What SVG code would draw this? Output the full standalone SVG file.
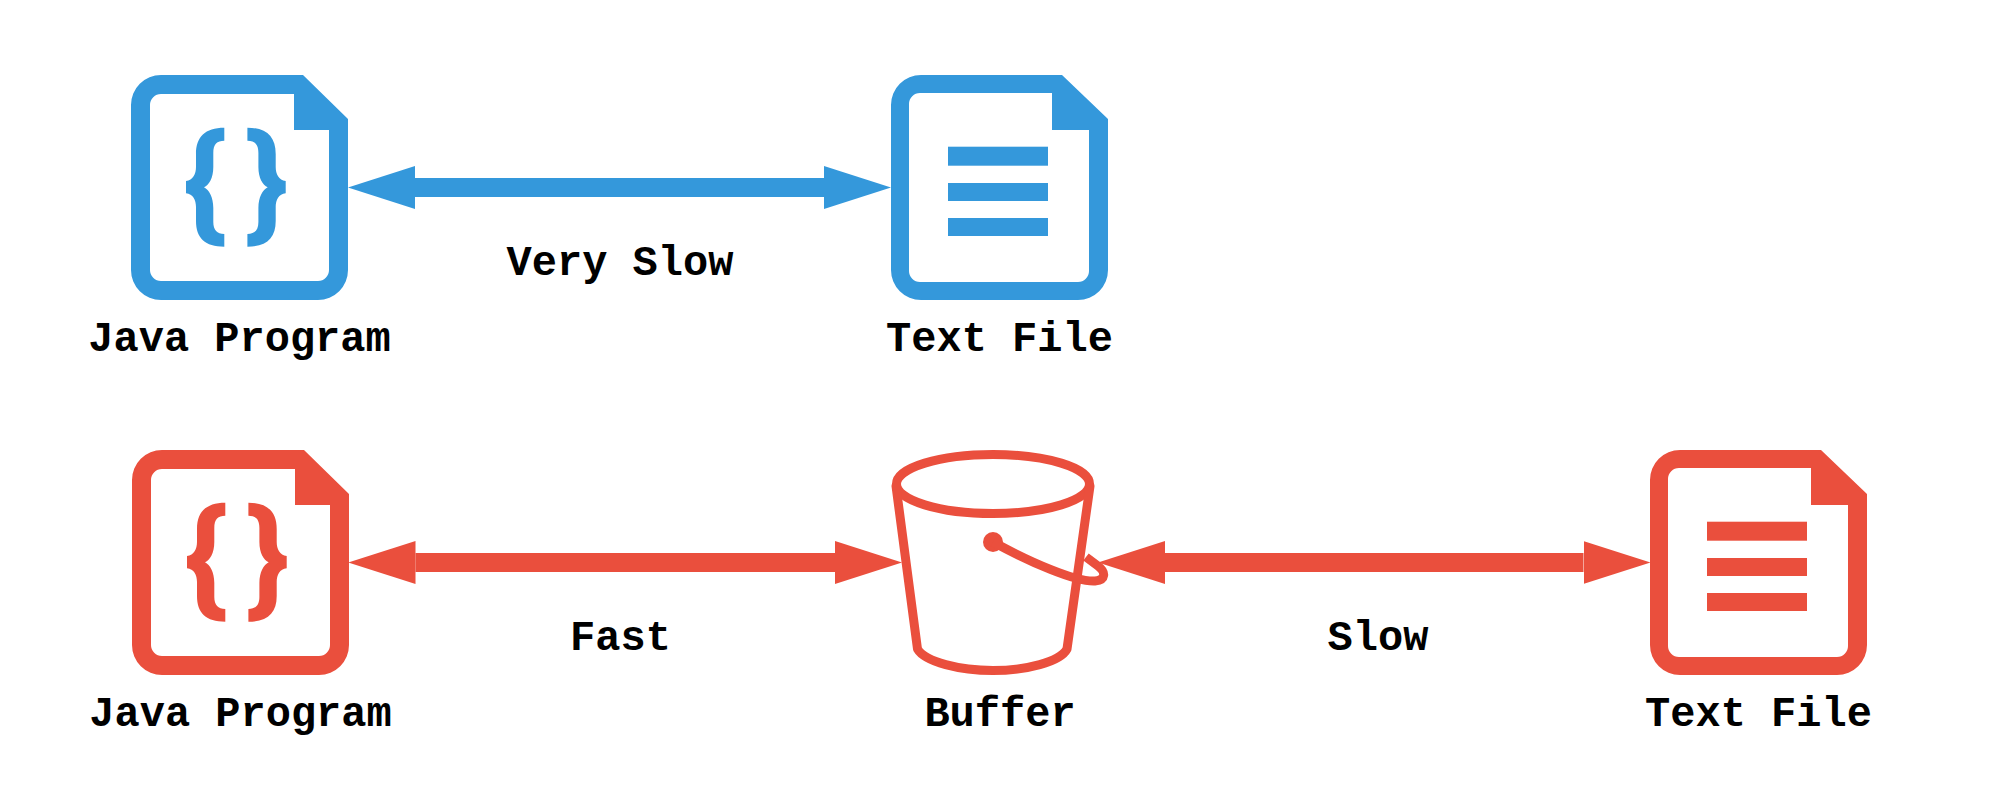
<svg xmlns="http://www.w3.org/2000/svg" width="1999" height="806" viewBox="0 0 1999 806">
<style>
.blue{color:#3498db}
.red{color:#ea4f3d}
.label{font-family:"Liberation Mono","DejaVu Sans Mono",monospace;font-weight:700;font-size:42px;fill:#000;text-anchor:middle}
.shaft{stroke:currentColor;stroke-width:19;fill:none}
.ink{fill:currentColor}
.pail{fill:none;stroke:currentColor;stroke-width:9;stroke-linejoin:round;stroke-linecap:round}
</style>
<defs>
<marker id="head-blue" markerUnits="userSpaceOnUse" markerWidth="67" markerHeight="43" refX="0" refY="21.5" orient="auto-start-reverse" viewBox="0 0 67 43"><path d="M0 0L67 21.5L0 43Z" fill="#3498db"/></marker>
<marker id="head-red" markerUnits="userSpaceOnUse" markerWidth="67" markerHeight="43" refX="0" refY="21.5" orient="auto-start-reverse" viewBox="0 0 67 43"><path d="M0 0L67 21.5L0 43Z" fill="#ea4f3d"/></marker>
<path id="sheet-code" class="ink" fill-rule="evenodd" d="M30 0H172L217 44V195A30 30 0 0 1 187 225H30A30 30 0 0 1 0 195V30A30 30 0 0 1 30 0ZM30 19A11 11 0 0 0 19 30V195A11 11 0 0 0 30 206H187A11 11 0 0 0 198 195V55H163V19Z"/>
<path id="sheet-text" class="ink" fill-rule="evenodd" d="M30 0H171L217 44V195A30 30 0 0 1 187 225H30A30 30 0 0 1 0 195V30A30 30 0 0 1 30 0ZM29 18A11 11 0 0 0 18 29V196A11 11 0 0 0 29 207H187A11 11 0 0 0 198 196V55H161V18Z"/>
<path id="brace" class="ink" d="M93.3 52.7V65.7C86 65.7 82.3 69 82.3 78V92C82.3 103 78 110 73 112.3C78 115 82.3 122 82.3 133V147C82.3 155 86 159 93.3 159V171.7C74 171.7 65 163 65 146V132C65 125 62 119 55 118.3V106C62 105 65 99 65 92V79C65 62 74 52.7 93.3 52.7Z"/>
<g id="code-icon"><use href="#sheet-code"/><use href="#brace"/><use href="#brace" transform="translate(209.7 0) scale(-1 1)"/></g>
<g id="text-icon"><use href="#sheet-text"/><rect class="ink" x="57" y="71.7" width="100" height="19"/><rect class="ink" x="57" y="108" width="100" height="18"/><rect class="ink" x="57" y="143" width="100" height="18"/></g>
</defs>
<rect width="1999" height="806" fill="#fff"/>
<g id="connectors">
<line class="shaft blue" x1="415" y1="187.5" x2="824" y2="187.5" marker-start="url(#head-blue)" marker-end="url(#head-blue)"/>
<line class="shaft red" x1="415.5" y1="562.5" x2="835" y2="562.5" marker-start="url(#head-red)" marker-end="url(#head-red)"/>
<line class="shaft red" x1="1165" y1="562.5" x2="1583.5" y2="562.5" marker-start="url(#head-red)" marker-end="url(#head-red)"/>
</g>
<g id="java-program-1" class="blue"><use href="#code-icon" x="131" y="75"/><text class="label" x="239.5" y="351">Java Program</text></g>
<g id="text-file-1" class="blue"><use href="#text-icon" x="891" y="75"/><text class="label" x="999.5" y="351">Text File</text></g>
<g id="java-program-2" class="red"><use href="#code-icon" x="132" y="450"/><text class="label" x="240.5" y="726">Java Program</text></g>
<g id="buffer" class="red">
<ellipse class="pail" cx="993" cy="484" rx="96.5" ry="29.5"/>
<path class="pail" d="M896 486L917.5 649C925 662 960 670.5 993 670.5C1026 670.5 1060 662 1067 649L1090 486"/>
<circle class="ink" cx="993" cy="542" r="10"/>
<path class="pail" style="stroke-linecap:butt" d="M993 542C1030 562 1075 582 1095 581C1106 580 1106 572 1098 566C1094 563 1090 560 1086 557"/>
<text class="label" x="1000" y="726">Buffer</text>
</g>
<g id="text-file-2" class="red"><use href="#text-icon" x="1650" y="450"/><text class="label" x="1758.5" y="726">Text File</text></g>
<g id="edge-labels">
<text class="label" x="620" y="275">Very Slow</text>
<text class="label" x="620.5" y="650">Fast</text>
<text class="label" x="1378" y="650">Slow</text>
</g>
</svg>
